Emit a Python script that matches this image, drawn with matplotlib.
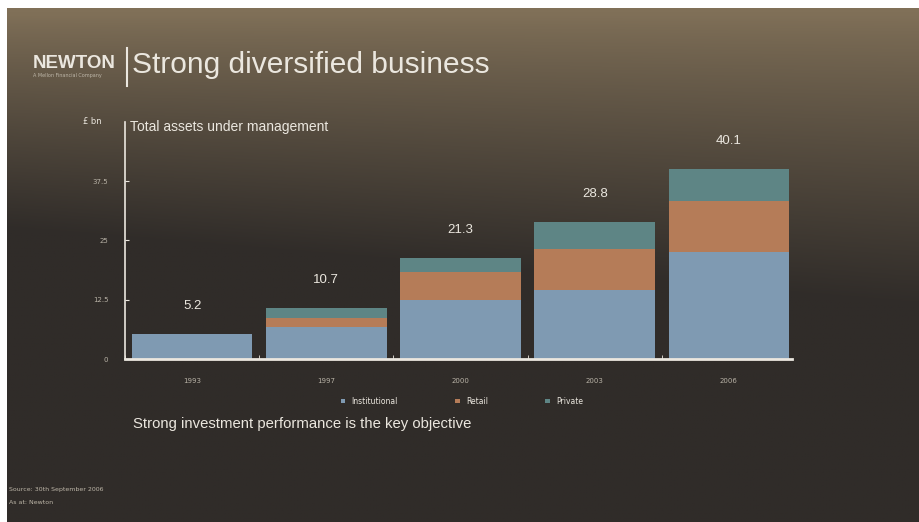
import numpy as np
import matplotlib.pyplot as plt

# Assets under management by client type, £bn
years = ["1993", "1997", "2000", "2003", "2006"]
institutional = [5.2, 6.7, 12.4, 14.5, 22.5]
retail = [0.0, 1.9, 5.9, 8.8, 10.9]
private = [0.0, 2.1, 3.0, 5.5, 6.7]
totals = [5.2, 10.7, 21.3, 28.8, 40.1]
y_ticks = [0, 12.5, 25, 37.5]

colors = {"Institutional": "#7f9ab2", "Retail": "#b57c58", "Private": "#5e8585"}
text_color = "#ebe7df"

fig = plt.figure(figsize=(9.19, 5.22), dpi=100)
fig.patch.set_facecolor("white")

# slide background: warm brown at the top fading to charcoal,
# the brown reaching further down on the right
bg = fig.add_axes([7 / 919, 0, 1 - 7 / 919, 1 - 8 / 522])
h, w = 200, 300
yy, xx = np.mgrid[0:1:h * 1j, 0:1:w * 1j]
top = np.array([128, 112, 88]) / 255
bottom = np.array([48, 44, 41]) / 255
t = np.clip((yy - 0.01) / (0.42 + 0.15 * xx), 0, 1) ** 0.85
img = top[None, None, :] * (1 - t[..., None]) + bottom[None, None, :] * t[..., None]
bg.imshow(img, aspect="auto", extent=[0, 1, 0, 1], origin="upper")
bg.axis("off")

# header
fig.text(33 / 919, 1 - 63 / 522, "NEWTON", color=text_color, fontsize=13.5,
         fontweight="bold", va="center", ha="left", family="Liberation Sans")
fig.text(33 / 919, 1 - 76 / 522, "A Mellon Financial Company", color="#bdb6a8",
         fontsize=3.5, va="center", ha="left")
fig.add_artist(plt.Line2D([127 / 919, 127 / 919], [1 - 48 / 522, 1 - 86 / 522],
                          color=text_color, lw=1.5, transform=fig.transFigure))
fig.text(132 / 919, 1 - 65 / 522, "Strong diversified business", color=text_color,
         fontsize=21.5, va="center", ha="left", family="Liberation Sans")

ax = fig.add_axes([125 / 919, 1 - 359 / 522, (792 - 125) / 919, (359 - 122) / 522])
ax.patch.set_alpha(0)
x = np.arange(len(years))
bw = 0.9
ax.bar(x, institutional, bw, color=colors["Institutional"], label="Institutional")
ax.bar(x, retail, bw, bottom=institutional, color=colors["Retail"], label="Retail")
base = np.add(institutional, retail)
ax.bar(x, private, bw, bottom=base, color=colors["Private"], label="Private")

for xi, tot in zip(x, totals):
    ax.annotate(f"{tot:.1f}", (xi, tot), xytext=(0, 16), textcoords="offset points",
                ha="center", va="bottom", color=text_color, fontsize=9.5,
                family="Liberation Sans")

ax.set_xlim(-0.5, 4.47)
ax.set_ylim(0, 50)
ax.set_yticks(y_ticks)
ax.set_yticklabels([f"{v:g}" for v in y_ticks], fontsize=5, color="#b8b2a6")
ax.set_xticks(x)
ax.set_xticklabels(years, fontsize=5, color="#b8b2a6")
ax.set_xticks(np.arange(-0.5, 4.5, 1), minor=True)
ax.tick_params(axis="x", which="major", length=0, pad=14)
ax.tick_params(axis="x", which="minor", length=3, color=text_color, direction="in")
ax.tick_params(axis="y", length=3, color=text_color, direction="in", pad=12)
for side in ["top", "right"]:
    ax.spines[side].set_visible(False)
ax.spines["left"].set_color(text_color)
ax.spines["left"].set_linewidth(1.2)
ax.spines["bottom"].set_color(text_color)
ax.spines["bottom"].set_linewidth(2)

ax.text(-0.46, 49.0, "Total assets under management", color=text_color, fontsize=10,
        va="center", ha="left", family="Liberation Sans")
fig.text(83 / 919, 1 - 122 / 522, "£ bn", color=text_color, fontsize=6,
         va="center", ha="left")

leg = ax.legend(loc="upper center", bbox_to_anchor=(0.505, -0.13), ncol=3, frameon=False,
                fontsize=5.5, handlelength=0.6, handleheight=0.6, columnspacing=7.5)
for txt in leg.get_texts():
    txt.set_color(text_color)

fig.text(133 / 919, 1 - 424 / 522, "Strong investment performance is the key objective",
         color=text_color, fontsize=10.7, va="center", ha="left", family="Liberation Sans")

fig.text(9 / 919, 1 - 490 / 522, "Source: 30th September 2006", color="#bdb6a8",
         fontsize=4.5, va="center", ha="left")
fig.text(9 / 919, 1 - 503 / 522, "As at: Newton", color="#bdb6a8",
         fontsize=4.5, va="center", ha="left")

fig.savefig("out.png", dpi=100)
